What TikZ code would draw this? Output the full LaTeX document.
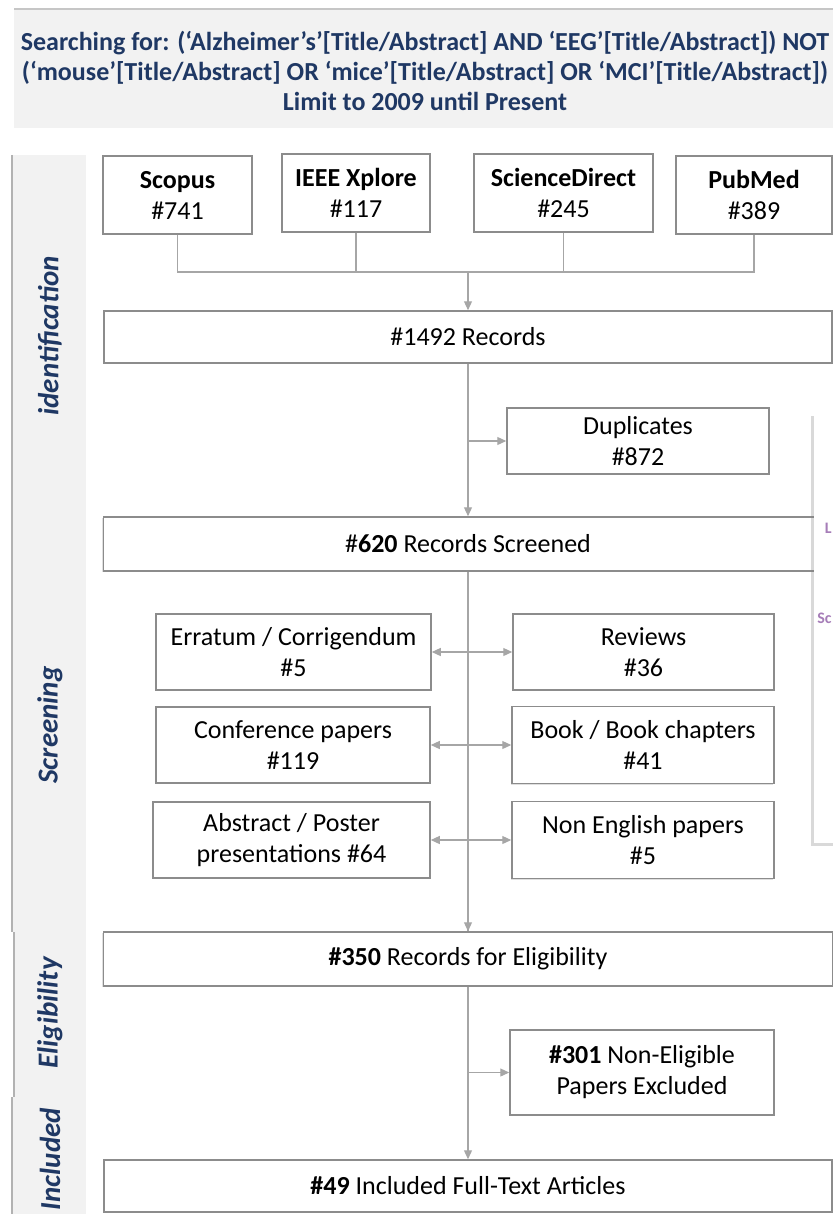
\documentclass[tikz,border=0pt]{standalone}
\usepackage{fontspec}
\setmainfont{Carlito}
\usetikzlibrary{arrows.meta,shadows}
\definecolor{navyText}{HTML}{1F3864}
\definecolor{panelGray}{HTML}{F2F2F2}
\definecolor{boxLine}{HTML}{8C8C8C}
\definecolor{linkGray}{HTML}{A6A6A6}
\definecolor{lilac}{HTML}{A67DB8}

\begin{document}
\begin{tikzpicture}[x=0.5pt,y=-0.5pt,->,>={Triangle[length=4.5pt,width=4pt]},
	font=\fontsize{13}{15.5}\selectfont,
	box/.style={draw=boxLine, line width=0.75pt, fill=white, inner sep=0, align=center,
		drop shadow={shadow xshift=-0.7pt,shadow yshift=-0.7pt,opacity=0.25}},
	link/.style={draw=linkGray, line width=0.6pt},
	side/.style={rotate=90, text=navyText, font=\fontsize{14.5}{17}\selectfont\bfseries\itshape},
	cut/.style={anchor=east, inner sep=0, text=lilac, font=\fontsize{8}{9}\selectfont\bfseries}]
	\useasboundingbox (0,0) rectangle (833,1214);
	
	% query header and stage panels
	\fill[panelGray] (14,10) rectangle (840,128);
	\draw[-, gray!45, line width=0.8pt] (14,9) -- (840,9);
	\node[text=navyText, font=\fontsize{13}{15}\selectfont\bfseries, align=center] (query) at (425,71) {Searching for: (‘Alzheimer’s’[Title/Abstract] AND ‘EEG’[Title/Abstract]) NOT\\(‘mouse’[Title/Abstract] OR ‘mice’[Title/Abstract] OR ‘MCI’[Title/Abstract])\\Limit to 2009 until Present};
	\fill[panelGray] (12,155) rectangle (86,932);
	\fill[panelGray] (14,932) rectangle (86,1097);
	\fill[panelGray] (12,1097) rectangle (86,1214);
	\draw[-, gray!60, line width=0.8pt] (12,155) -- (12,932) (14,932) -- (14,1097) (12,1097) -- (12,1214);
	\node[side] (idlab) at (50,336) {identification};
	\node[side] (scrlab) at (50,725) {Screening};
	\node[side] (eliglab) at (50,1013) {Eligibility};
	\node[side] (incllab) at (50,1159) {Included};
	
	% databases
	\node[box, minimum width=74.5pt, minimum height=39pt] (scopus) at (177.5,195) {\textbf{Scopus}\\\#741};
	\node[box, minimum width=74pt, minimum height=39pt] (ieee) at (356,193) {\textbf{IEEE Xplore}\\\#117};
	\node[box, minimum width=89.5pt, minimum height=39pt] (sd) at (563.5,193) {\textbf{ScienceDirect}\\\#245};
	\node[box, minimum width=78pt, minimum height=39pt] (pubmed) at (754,195) {\textbf{PubMed}\\\#389};
	\coordinate (jn) at (468,272);
	
	\node[box, minimum width=364pt, minimum height=26pt] (rec) at (468,337) {\#1492 Records};
	\node[box, minimum width=131pt, minimum height=33pt] (dup) at (638,441) {Duplicates\\\#872};
	\node[box, minimum width=364.5pt, minimum height=27pt] (scr) at (468,544) {\#\textbf{620} Records Screened};
	
	% exclusions at screening
	\node[box, minimum width=137.5pt, minimum height=38pt] (err) at (293.5,652) {Erratum / Corrigendum\\\#5};
	\node[box, minimum width=130.5pt, minimum height=38pt] (rev) at (643.5,652) {Reviews\\\#36};
	\node[box, minimum width=137pt, minimum height=38pt] (conf) at (293,745) {Conference papers\\\#119};
	\node[box, minimum width=131pt, minimum height=38.5pt] (book) at (643,745) {Book / Book chapters\\\#41};
	\node[box, minimum width=138.5pt, minimum height=38pt] (abs) at (291.5,840) {Abstract / Poster\\presentations \#64};
	\node[box, minimum width=131pt, minimum height=38.5pt] (noneng) at (643,840) {Non English papers\\\#5};
	
	\node[box, minimum width=364.5pt, minimum height=27pt] (elig) at (468,959) {\textbf{\#350} Records for Eligibility};
	\node[box, minimum width=132pt, minimum height=42.5pt] (nonelig) at (642,1072.5) {\textbf{\#301} Non-Eligible\\Papers Excluded};
	\node[box, minimum width=364pt, minimum height=26pt] (incl) at (468,1186) {\textbf{\#49} Included Full-Text Articles};
	
	% connectors
	\draw[link,-] (scopus.south) -- (scopus.south |- jn) -- (pubmed.south |- jn) -- (pubmed.south);
	\draw[link,-] (ieee.south) -- (ieee.south |- jn);
	\draw[link,-] (sd.south) -- (sd.south |- jn);
	\draw[link] (jn) -- (rec.north);
	\draw[link] (rec.south) -- (scr.north);
	\coordinate (dupfork) at (468,441);
	\draw[link] (dupfork) -- (dup.west);
	\draw[link,-] (scr.south) -- (elig.north);
	\draw[link] (elig.north |- 0,925) -- (elig.north);
	\draw[link,<->] (err.east) -- (rev.west);
	\draw[link,<->] (conf.east) -- (book.west);
	\draw[link,<->] (abs.east) -- (noneng.west);
	\draw[link] (elig.south) -- (incl.north);
	\coordinate (eligfork) at (468,1072.5);
	\draw[link] (eligfork) -- (nonelig.west);
	
	% edge of the neighbouring panel
	\fill[white, drop shadow={shadow xshift=-1.5pt,shadow yshift=-1.5pt,opacity=0.3}] (814,413) rectangle (850,843);
	\node[cut] (cutl) at (832,528) {L};
	\node[cut] (cutsc) at (832,618) {Sc};
\end{tikzpicture}
\end{document}
